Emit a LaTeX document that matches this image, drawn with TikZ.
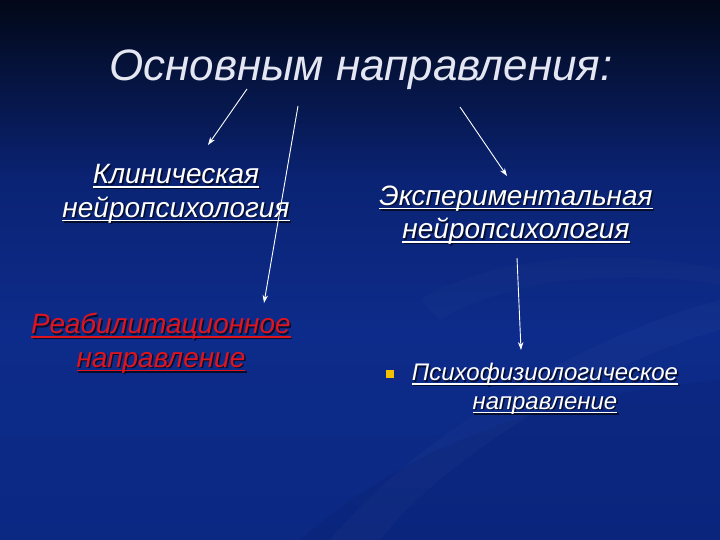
\documentclass[tikz,border=0pt]{standalone}
\usepackage{fontspec}
\setmainfont{Liberation Sans}
\usetikzlibrary{arrows.meta}
\definecolor{bgtop}{HTML}{020818}
\definecolor{bgmid}{HTML}{0A2374}
\definecolor{bgblue}{HTML}{0D2B8A}
\definecolor{bgbot}{HTML}{0B2883}
\definecolor{titlecol}{HTML}{E4E6F2}
\definecolor{redtext}{HTML}{E0141E}
\definecolor{shadowcol}{HTML}{03091F}
\definecolor{bulletcol}{HTML}{F2C200}
\newsavebox{\myulbox}
\newcommand{\myul}[1]{\sbox{\myulbox}{#1}\rlap{\usebox{\myulbox}}\rule[-4pt]{\wd\myulbox}{1.5pt}}
\tikzset{
  body/.style={font=\fontsize{28}{33.5}\selectfont\itshape, align=center, inner sep=0pt, text=white},
  small/.style={font=\fontsize{24}{28.5}\selectfont\itshape},
  shad/.style={body, text=shadowcol, opacity=0.85},
  redbody/.style={body, text=redtext},
  arr/.style={draw=white, line width=0.9pt, -{Stealth[length=8pt,width=5.5pt]}},
}
\begin{document}
\begin{tikzpicture}[x=1pt,y=-1pt]
\useasboundingbox (0,0) rectangle (720,540);
% background
\shade[top color=bgtop, bottom color=bgmid] (0,0) rectangle (720,180);
\shade[top color=bgmid, bottom color=bgblue] (0,180) rectangle (720,330);
\shade[top color=bgblue, bottom color=bgbot] (0,330) rectangle (720,540);
% faint swooshes
\fill[white, opacity=0.018] (330,540) .. controls (420,430) and (600,330) .. (720,300) -- (720,330) .. controls (610,360) and (450,450) .. (380,540) -- cycle;
\fill[white, opacity=0.015] (420,300) .. controls (500,250) and (640,250) .. (720,270) -- (720,285) .. controls (640,270) and (510,275) .. (440,320) -- cycle;
\fill[black, opacity=0.05] (300,540) .. controls (380,470) and (500,400) .. (720,380) -- (720,540) -- cycle;

% title
\node[font=\fontsize{44}{52}\selectfont\itshape, text=titlecol, inner sep=0pt] (title) at (361,70) {Основным направления:};

% clinical
\node[shad] (klinS) at (177.5,195.5) {\myul{Клиническая}\\\myul{нейропсихология}};
\node[body] (klin) at (176,194) {\myul{Клиническая}\\\myul{нейропсихология}};

% experimental
\node[shad] (expS) at (517.5,216.5) {\myul{Экспериментальная}\\\myul{нейропсихология}};
\node[body] (exp) at (516,215) {\myul{Экспериментальная}\\\myul{нейропсихология}};

% rehabilitation
\node[shad] (rehS) at (162.5,344.5) {\myul{Реабилитационное}\\\myul{направление}};
\node[redbody] (reh) at (161,343) {\myul{Реабилитационное}\\\myul{направление}};

% psychophysiological
\node[shad, small] (psyS) at (546.5,390.5) {\myul{Психофизиологическое}\\\myul{направление}};
\node[body, small] (psy) at (545,389) {\myul{Психофизиологическое}\\\myul{направление}};
\node[fill=bulletcol, minimum size=8pt, inner sep=0pt] (bullet) at (390,374) {};

% arrows
\coordinate (a1s) at (247,89);
\coordinate (a1e) at (208,145);
\coordinate (a2s) at (298,106);
\coordinate (a2e) at (264,303);
\coordinate (a3s) at (460,107);
\coordinate (a3e) at (507,176);
\coordinate (a4s) at (517,258);
\coordinate (a4e) at (521,350);
\draw[arr] (a1s) -- (a1e);
\draw[arr] (a2s) -- (a2e);
\draw[arr] (a3s) -- (a3e);
\draw[arr] (a4s) -- (a4e);
\end{tikzpicture}
\end{document}
